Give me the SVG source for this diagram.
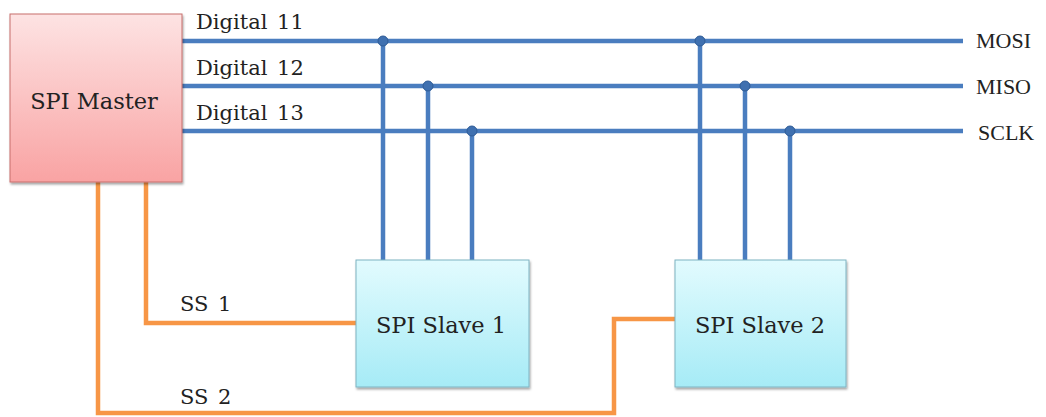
<svg xmlns="http://www.w3.org/2000/svg" width="1046" height="417" viewBox="0 0 1046 417">
  <defs>
    <linearGradient id="gMaster" x1="0" y1="0" x2="0" y2="1">
      <stop offset="0" stop-color="#fde3e3"/>
      <stop offset="1" stop-color="#f9a3a3"/>
    </linearGradient>
    <linearGradient id="gSlave" x1="0" y1="0" x2="0" y2="1">
      <stop offset="0" stop-color="#e2fbfe"/>
      <stop offset="1" stop-color="#a6ebf6"/>
    </linearGradient>
    <filter id="shadow" x="-10%" y="-10%" width="120%" height="120%">
      <feDropShadow dx="1" dy="2" stdDeviation="1.2" flood-color="#000" flood-opacity="0.35"/>
    </filter>
  </defs>
  <style>
    text { font-family: "DejaVu Serif", "Liberation Serif", serif; fill: #222; }
    .lbl { font-size: 21px; word-spacing: 3px; }
    .sig { font-family: "Liberation Serif", "DejaVu Serif", serif; font-size: 22px; }
    .node { font-size: 22.5px; }
    .bus { stroke: #4a7dbf; stroke-width: 4.5; fill: none; }
    .ss { stroke: #f79646; stroke-width: 4.5; fill: none; stroke-linejoin: miter; }
    .dot { fill: #3f70b0; stroke: #2f5c97; stroke-width: 1; }
  </style>
  <rect width="1046" height="417" fill="#fff"/>

  <g id="connectors">
    <!-- data bus lines -->
    <line class="bus" x1="182" y1="41" x2="963" y2="41"/>
    <line class="bus" x1="182" y1="86" x2="963" y2="86"/>
    <line class="bus" x1="182" y1="131" x2="963" y2="131"/>
    <!-- taps to slave 1 -->
    <line class="bus" x1="383" y1="41" x2="383" y2="260"/>
    <line class="bus" x1="428" y1="86" x2="428" y2="260"/>
    <line class="bus" x1="472" y1="131" x2="472" y2="260"/>
    <!-- taps to slave 2 -->
    <line class="bus" x1="700" y1="41" x2="700" y2="260"/>
    <line class="bus" x1="745" y1="86" x2="745" y2="260"/>
    <line class="bus" x1="790" y1="131" x2="790" y2="260"/>
    <circle class="dot" cx="383" cy="41" r="5"/>
    <circle class="dot" cx="428" cy="86" r="5"/>
    <circle class="dot" cx="472" cy="131" r="5"/>
    <circle class="dot" cx="700" cy="41" r="5"/>
    <circle class="dot" cx="745" cy="86" r="5"/>
    <circle class="dot" cx="790" cy="131" r="5"/>
    <!-- slave select lines -->
    <polyline class="ss" points="146,182 146,323 356,323"/>
    <polyline class="ss" points="98,182 98,413 614,413 614,319 675,319"/>

    <text class="lbl" x="196" y="29">Digital 11</text>
    <text class="lbl" x="196" y="75">Digital 12</text>
    <text class="lbl" x="196" y="120">Digital 13</text>
    <text class="sig" x="976" y="48">MOSI</text>
    <text class="sig" x="976" y="94">MISO</text>
    <text class="sig" x="978" y="140">SCLK</text>
    <text class="lbl" x="180" y="311">SS 1</text>
    <text class="lbl" x="180" y="404">SS 2</text>
  </g>

  <g id="master">
    <rect x="10" y="14" width="172" height="168" fill="url(#gMaster)" stroke="#c76f6c" stroke-width="1" filter="url(#shadow)"/>
    <text class="node" x="94" y="109" text-anchor="middle">SPI Master</text>
  </g>

  <g id="slave1">
    <rect x="356" y="260" width="173" height="127" fill="url(#gSlave)" stroke="#7fb3c2" stroke-width="1" filter="url(#shadow)"/>
    <text class="node" x="441" y="333" text-anchor="middle">SPI Slave 1</text>
  </g>

  <g id="slave2">
    <rect x="675" y="260" width="171" height="127" fill="url(#gSlave)" stroke="#7fb3c2" stroke-width="1" filter="url(#shadow)"/>
    <text class="node" x="760" y="333" text-anchor="middle">SPI Slave 2</text>
  </g>
</svg>
